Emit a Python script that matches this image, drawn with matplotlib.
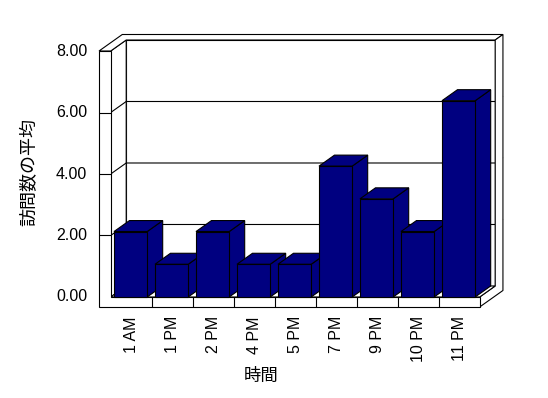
import matplotlib
matplotlib.use("Agg")
import matplotlib.pyplot as plt
from matplotlib.patches import Polygon

# ---- data ----
categories = ["1 AM", "1 PM", "2 PM", "4 PM", "5 PM", "7 PM", "9 PM", "10 PM", "11 PM"]
visits = [2, 1, 2, 1, 1, 4, 3, 2, 6]
y_ticks = [0, 2, 4, 6, 8]
y_tick_labels = ["0.00", "2.00", "4.00", "6.00", "8.00"]
x_title = "時間"
y_title = "訪問数の平均"

# ---- style / geometry ----
NAVY = "#000080"
LW = 0.8
DEPTH = (0.378, 0.358)   # screen shift per unit of depth (category units, value units)
WALL = 0.285             # left wall thickness
FLOOR = 0.325            # floor thickness
BACK = 1.5               # depth of the back wall's outer face
BAR_OFF, BAR_W = 0.08, 0.81
BAR_SCALE = 1.064        # perspective growth of the bars in the original
YMAX = y_ticks[-1]
TXT = "Liberation Sans"
CJK = ["Noto Sans CJK JP", "DejaVu Sans"]


def P(x, v, z):
    return (x + DEPTH[0] * z, v + DEPTH[1] * z)


fig = plt.figure(figsize=(5.48, 3.98), dpi=100)
ax = fig.add_axes([0, 0, 1, 1])
ax.set_xlim(-2.7, 10.666)
ax.set_ylim(-3.285, 9.659)
ax.axis("off")

n = len(categories)


def poly(pts, fc="white", z=1):
    ax.add_patch(Polygon([P(*p) for p in pts], closed=True, facecolor=fc,
                         edgecolor="black", lw=LW, zorder=z, joinstyle="miter"))


def line(pts, z=2):
    xs, ys = zip(*[P(*p) for p in pts])
    ax.plot(xs, ys, color="black", lw=LW, zorder=z, solid_capstyle="butt")


# walls and floor
poly([(0, 0, 1), (n, 0, 1), (n, YMAX, 1), (0, YMAX, 1)], z=1)          # back wall face
poly([(0, 0, 0), (0, 0, 1), (0, YMAX, 1), (0, YMAX, 0)], z=1)          # left wall inner face
for v in y_ticks[1:-1]:
    line([(0, v, 0), (0, v, 1), (n, v, 1), (n, v, BACK)], z=2)           # gridlines
poly([(-WALL, YMAX, 0), (0, YMAX, 0), (0, YMAX, 1), (n, YMAX, 1),
      (n, YMAX, BACK), (-WALL, YMAX, BACK)], z=3)                        # top surfaces
poly([(n, -FLOOR, 0), (n, -FLOOR, BACK), (n, YMAX, BACK), (n, YMAX, 1),
      (n, 0, 1), (n, 0, 0)], z=3)                                       # right faces
poly([(0, 0, 0), (n, 0, 0), (n, 0, 1), (0, 0, 1)], z=3)                 # floor top
poly([(-WALL, -FLOOR, 0), (n, -FLOOR, 0), (n, 0, 0), (0, 0, 0),
      (0, YMAX, 0), (-WALL, YMAX, 0)], z=3)                             # front L face
for v in y_ticks[1:-1]:
    line([(-WALL, v, 0), (0, v, 0)], z=4)
for i in range(1, n):
    line([(i, -FLOOR, 0), (i, 0, 0)], z=4)

# bars
for i, v in enumerate(visits):
    h = v * BAR_SCALE
    x0, x1 = i + BAR_OFF, i + BAR_OFF + BAR_W
    zz = 10 + i
    poly([(x1, 0, 0), (x1, 0, 1), (x1, h, 1), (x1, h, 0)], NAVY, zz)
    poly([(x0, h, 0), (x1, h, 0), (x1, h, 1), (x0, h, 1)], NAVY, zz)
    poly([(x0, 0, 0), (x1, 0, 0), (x1, h, 0), (x0, h, 0)], NAVY, zz)

# tick labels
for v, lab in zip(y_ticks, y_tick_labels):
    ax.text(-WALL - 0.29, v, lab, ha="right", va="center", fontsize=11.5, family=TXT)
for i, lab in enumerate(categories):
    ax.text(i + 0.5, -0.62, lab, rotation=90, ha="center", va="top", fontsize=11.5, family=TXT)

fig.text(0.476, 0.0553, x_title, ha="center", va="center", fontsize=12.5, family=CJK)
fig.text(0.0538, 0.5666, y_title, ha="center", va="center", rotation=90, fontsize=13, family=CJK)

fig.savefig("out.png", dpi=100, facecolor="white")
